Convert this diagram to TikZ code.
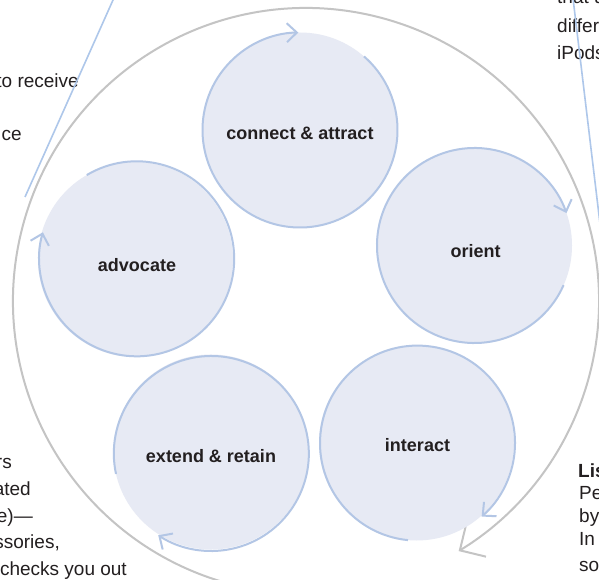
\documentclass[tikz,border=0pt]{standalone}
\usepackage{fontspec}
\setmainfont{Liberation Sans}
\usetikzlibrary{arrows.meta}
\definecolor{cfill}{HTML}{E7EAF4}
\definecolor{cline}{HTML}{B3C6E5}
\definecolor{ring}{HTML}{C4C4C4}
\definecolor{leader}{HTML}{AEC7EA}
\definecolor{ink}{HTML}{231F20}
\begin{document}
\begin{tikzpicture}[x=1pt,y=1pt,
  stage/.style={circle, fill=cfill, minimum size=195pt, inner sep=0pt, outer sep=0pt},
  stagearc/.style={draw=cline, line width=2pt, -{Straight Barb[length=10pt,width=19pt]}},
  lbl/.style={font=\fontsize{18}{20}\selectfont\bfseries, text=ink, anchor=base, inner sep=0pt},
  body/.style={font=\fontsize{19}{23}\selectfont, text=ink, inner sep=0pt},
  bodybold/.style={body, font=\fontsize{19}{23}\selectfont\bfseries},
  ringarc/.style={draw=ring, line width=2pt, -{Straight Barb[length=19pt,width=38pt]}},
  leaderline/.style={draw=leader, line width=1.6pt}]
\useasboundingbox (0,0) rectangle (599,579);
\fill[white] (0,0) rectangle (599,579);

% outer ring
\coordinate (rc) at (306,278);
\draw[ringarc] (rc) ++(-105:293pt) arc[start angle=-105, end angle=-418.6, radius=293pt];

% stages
\node[stage] (ca) at (300,449) {};
\node[stage] (or) at (474.5,333.5) {};
\node[stage] (in) at (416.5,136) {};
\node[stage] (ex) at (211,127) {};
\node[stage] (ad) at (135.5,319.5) {};

\draw[stagearc] (ca.49) arc[start angle=49, end angle=-269, radius=97.5pt];
\draw[stagearc] (or.-24) arc[start angle=-24, end angle=-340.6, radius=97.5pt];
\draw[stagearc] (in.-95.6) arc[start angle=-95.6, end angle=-408.9, radius=97.5pt];
\draw[stagearc] (ex.-167.9) arc[start angle=-167.9, end angle=-483, radius=97.5pt];
\draw[stagearc] (ad.120.8) arc[start angle=120.8, end angle=-195.8, radius=97.5pt];

\node[lbl] (lca) at (300,439) {connect \& attract};
\node[lbl] (lor) at (475.5,321) {orient};
\node[lbl] (lin) at (417.5,128) {interact};
\node[lbl] (lex) at (211,117) {extend \& retain};
\node[lbl] (lad) at (137,308) {advocate};

% surrounding text fragments
\node[body, anchor=base east] (t1) at (79,491) {to receive};
\node[body, anchor=base east] (t2) at (22,438) {ce};
\node[body, anchor=base west] (t3) at (557,575) {that u};
\node[body, anchor=base west] (t4) at (557,546) {differ};
\node[body, anchor=base west] (t5) at (557,519) {iPods};

\node[body, anchor=base east] (b1) at (12,111) {rs};
\node[body, anchor=base east] (b2) at (31,84) {ated};
\node[body, anchor=base east] (b3) at (33,57) {e)—};
\node[body, anchor=base east] (b4) at (60,31) {ssories,};
\node[body, anchor=base east] (b5) at (127,4) {checks you out};

\node[bodybold, anchor=base west] (r1) at (578,102) {Lis};
\node[body, anchor=base west] (r2) at (579,80) {Pe};
\node[body, anchor=base west] (r3) at (579,57) {by};
\node[body, anchor=base west] (r4) at (579,34) {In t};
\node[body, anchor=base west] (r5) at (579,8) {so};

% leader lines
\coordinate (l1a) at (117.5,589);
\coordinate (l1b) at (25,382);
\coordinate (l2a) at (572,589);
\coordinate (l2b) at (601,347);
\draw[leaderline] (l1a) -- (l1b);
\draw[leaderline] (l2a) -- (l2b);
\end{tikzpicture}
\end{document}
